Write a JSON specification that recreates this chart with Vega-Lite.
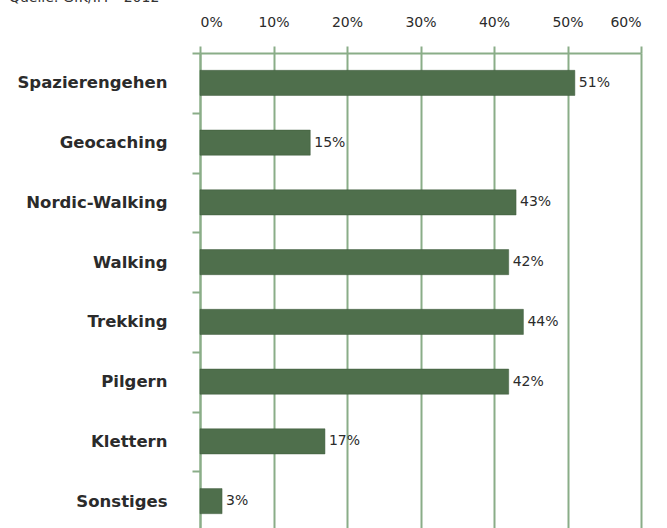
{
  "$schema": "https://vega.github.io/schema/vega-lite/v6.json",
  "autosize": "none",
  "width": 441,
  "height": 478,
  "padding": {"left": 200, "top": 53, "right": 26, "bottom": 0},
  "background": "white",
  "title": {
    "text": "Quelle: GfK/IfT · 2012",
    "anchor": "start",
    "frame": "bounds",
    "fontSize": 14,
    "font": "DejaVu Sans",
    "fontWeight": "normal",
    "color": "#333333",
    "baseline": "bottom",
    "offset": -4,
    "dx": -8
  },
  "data": {
    "values": [
      {"cat": "Spazierengehen", "v": 51},
      {"cat": "Geocaching", "v": 15},
      {"cat": "Nordic-Walking", "v": 43},
      {"cat": "Walking", "v": 42},
      {"cat": "Trekking", "v": 44},
      {"cat": "Pilgern", "v": 42},
      {"cat": "Klettern", "v": 17},
      {"cat": "Sonstiges", "v": 3}
    ]
  },
  "config": {
    "view": {"stroke": null},
    "font": "DejaVu Sans"
  },
  "encoding": {
    "y": {
      "field": "cat",
      "type": "nominal",
      "sort": null,
      "scale": {"paddingInner": 0, "paddingOuter": 0},
      "axis": {
        "title": null,
        "domainColor": "#8aad88",
        "domainWidth": 2,
        "tickColor": "#8aad88",
        "tickWidth": 2,
        "tickSize": 8,
        "tickBand": "extent",
        "labelPadding": 25,
        "labelFont": "DejaVu Sans",
        "labelFontWeight": "bold",
        "labelFontSize": 16.5,
        "labelColor": "#2b2b2b",
        "grid": false
      }
    },
    "x": {
      "field": "v",
      "type": "quantitative",
      "scale": {"domain": [0, 60], "nice": false},
      "axis": {
        "orient": "top",
        "title": null,
        "values": [0, 10, 20, 30, 40, 50, 60],
        "labelExpr": "datum.value + '%'",
        "domainColor": "#8aad88",
        "domainWidth": 2,
        "tickColor": "#8aad88",
        "tickWidth": 2,
        "tickSize": 7,
        "labelPadding": 17,
        "labelFont": "DejaVu Sans",
        "labelFontSize": 14,
        "labelColor": "#2b2b2b",
        "grid": true,
        "gridColor": "#8aad88",
        "gridWidth": 2,
        "gridOpacity": 1
      }
    }
  },
  "layer": [
    {"mark": {"type": "bar", "color": "#4f6f4c", "stroke": "#3f5a3c", "strokeWidth": 0.5, "height": {"band": 0.42}}},
    {
      "mark": {"type": "text", "align": "left", "dx": 4, "fontSize": 14, "color": "#2b2b2b", "font": "DejaVu Sans"},
      "transform": [{"calculate": "datum.v + '%'", "as": "lbl"}],
      "encoding": {"text": {"field": "lbl", "type": "nominal"}}
    }
  ]
}
